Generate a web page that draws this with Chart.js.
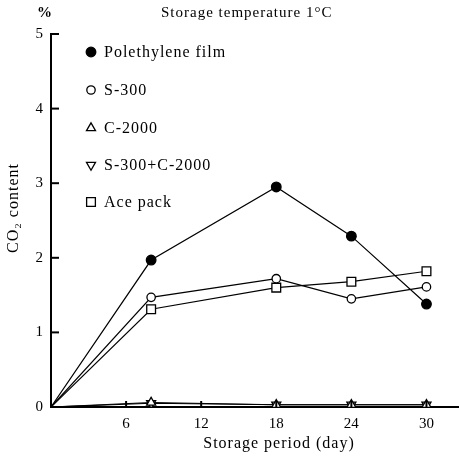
<!DOCTYPE html>
<html>
<head>
<meta charset="utf-8">
<script src="https://cdn.jsdelivr.net/npm/chart.js@4/dist/chart.umd.min.js"></script>
<style>
html,body{margin:0;padding:0;background:#fff;}
canvas{display:block;}
</style>
</head>
<body>
<canvas id="c" width="459" height="460"></canvas>
<script>
// ---- data ----
const days = [0, 8, 18, 24, 30];
const polyethylene = [0, 1.97, 2.95, 2.29, 1.38];
const s300 = [0, 1.47, 1.72, 1.45, 1.61];
const c2000 = [0, 0.06, 0.03, 0.03, 0.03];
const s300c2000 = [0, 0.05, 0.03, 0.03, 0.03];
const acePack = [0, 1.31, 1.60, 1.68, 1.82];
const seriesNames = ['Polethylene film', 'S-300', 'C-2000', 'S-300+C-2000', 'Ace pack'];
const xTickValues = [6, 12, 18, 24, 30];
const yTickValues = [0, 1, 2, 3, 4, 5];
const chartTitle = 'Storage temperature 1\u00B0C';
const xTitle = 'Storage period (day)';
const yTitle = 'CO\u2082 content';
const yUnit = '%';

const FONT = "'Liberation Serif', 'DejaVu Serif', serif";

function pts(vals){ return vals.map((v,i)=>({x:days[i], y:v})); }
function radii(r){ return days.map((d,i)=> i===0 ? 0 : r); }

const styles = [
  {pointStyle:'circle', radius:4.8, bg:'#000', rotation:0},
  {pointStyle:'circle', radius:4.2, bg:'#fff', rotation:0},
  {pointStyle:'triangle', radius:5.2, bg:'#fff', rotation:0},
  {pointStyle:'triangle', radius:5.2, bg:'#fff', rotation:180},
  {pointStyle:'rect', radius:6.2, bg:'#fff', rotation:0},
];
const allSeries = [polyethylene, s300, c2000, s300c2000, acePack];

const datasets = allSeries.map((vals, k) => ({
  label: seriesNames[k],
  data: pts(vals),
  borderColor: '#000',
  borderWidth: 1.2,
  pointStyle: styles[k].pointStyle,
  pointRotation: styles[k].rotation,
  pointRadius: radii(styles[k].radius),
  pointBackgroundColor: styles[k].bg,
  pointBorderColor: '#000',
  pointBorderWidth: 1.3,
  tension: 0,
  fill: false,
}));

const decor = {
  id: 'decor',
  afterDatasetsDraw(chart) {
    const ctx = chart.ctx;
    const xs = chart.scales.x, ys = chart.scales.y;
    const ca = chart.chartArea;
    ctx.save();
    ctx.strokeStyle = '#000';
    ctx.lineWidth = 2;
    // inward tick marks
    yTickValues.forEach(v => {
      if (v === 0) return;
      const y = ys.getPixelForValue(v);
      ctx.beginPath(); ctx.moveTo(ca.left, y); ctx.lineTo(ca.left + 8, y); ctx.stroke();
    });
    xTickValues.forEach(v => {
      const x = xs.getPixelForValue(v);
      ctx.beginPath(); ctx.moveTo(x, ca.bottom); ctx.lineTo(x, ca.bottom - 6); ctx.stroke();
    });
    // texts
    ctx.fillStyle = '#000';
    ctx.textBaseline = 'middle';
    try { ctx.letterSpacing = '1px'; } catch(e) {}
    ctx.font = '15px ' + FONT;
    ctx.textAlign = 'left';
    ctx.fillText(chartTitle, 161, 13);
    ctx.font = 'bold 15px ' + FONT;
    ctx.textAlign = 'center';
    ctx.fillText(yUnit, 45, 13);
    ctx.font = '16px ' + FONT;
    ctx.fillText(xTitle, 279, 444);
    ctx.save();
    ctx.translate(14, 208);
    ctx.rotate(-Math.PI/2);
    ctx.font = '16px ' + FONT;
    ctx.fillText(yTitle, 0, 0);
    ctx.restore();
    // legend
    const legY = [52, 90, 128, 165, 202];
    ctx.font = '16px ' + FONT;
    ctx.textAlign = 'left';
    styles.forEach((s, k) => {
      const x = 91, y = legY[k];
      ctx.fillStyle = s.bg;
      ctx.strokeStyle = '#000';
      ctx.lineWidth = 1.3;
      Chart.helpers.drawPoint(ctx, {pointStyle: s.pointStyle, radius: s.radius, rotation: s.rotation, borderWidth: 1.3}, x, y);
      ctx.fillStyle = '#000';
      ctx.fillText(seriesNames[k], 104, y + 1);
    });
    ctx.restore();
  }
};

new Chart(document.getElementById('c'), {
  type: 'line',
  data: { datasets },
  options: {
    responsive: false,
    animation: false,
    layout: { autoPadding: false, padding: { top: 34, right: 0, left: 0, bottom: 0 } },
    plugins: { legend: { display: false }, tooltip: { enabled: false }, title: { display: false } },
    scales: {
      x: {
        type: 'linear', min: 0, max: 32.6,
        afterBuildTicks: s => { s.ticks = xTickValues.map(v => ({value: v})); },
        afterFit: s => { s.height = 53; },
        grid: { display: false, drawTicks: false },
        border: { display: true, color: '#000', width: 2 },
        ticks: { color: '#000', padding: 8, font: { family: FONT, size: 15 } },
      },
      y: {
        type: 'linear', min: 0, max: 5,
        afterBuildTicks: s => { s.ticks = yTickValues.map(v => ({value: v})); },
        afterFit: s => { s.width = 51; },
        grid: { display: false, drawTicks: false },
        border: { display: true, color: '#000', width: 2 },
        ticks: { color: '#000', padding: 8, font: { family: FONT, size: 15 } },
      }
    }
  },
  plugins: [decor]
});
</script>
</body>
</html>
